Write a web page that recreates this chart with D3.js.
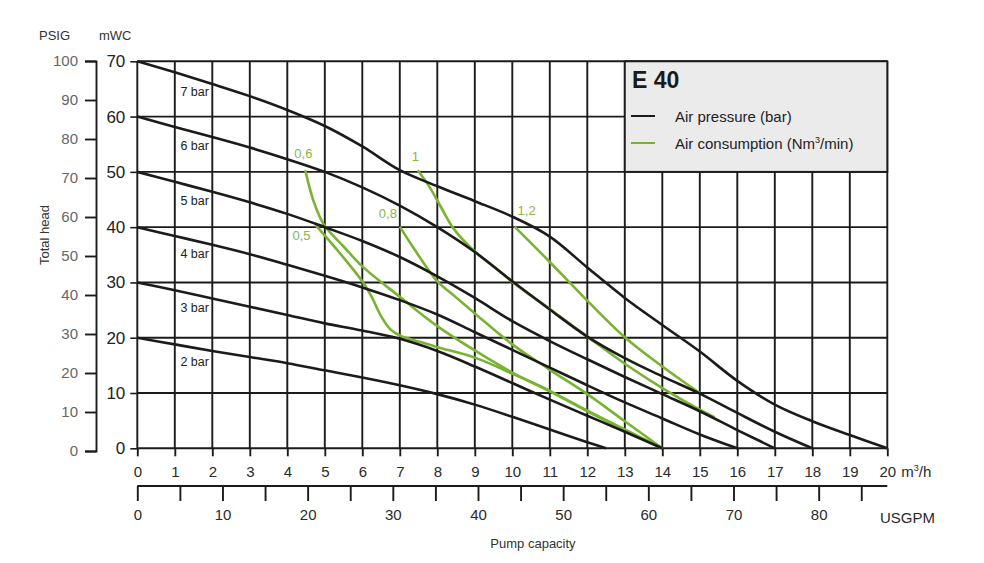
<!DOCTYPE html>
<html>
<head>
<meta charset="utf-8">
<script src="https://cdn.jsdelivr.net/npm/d3@7"></script>
<style>
body { margin: 0; background: #fff; }
svg { display: block; font-family: "Liberation Sans", Arial, Helvetica, sans-serif; }
.narrow { font-family: "Liberation Sans Narrow", "Arial Narrow", "Liberation Sans", sans-serif; font-stretch: condensed; }
</style>
</head>
<body>
<svg id="chart" width="984" height="563"></svg>
<script>
// axis ticks
var flowTicks = d3.range(0, 21);            // m3/h
var headTicks = [0, 10, 20, 30, 40, 50, 60, 70];   // mWC
var psigTicks = [0, 10, 20, 30, 40, 50, 60, 70, 80, 90, 100];
var gpmTicks = d3.range(0, 90, 5);
var gpmLabels = [0, 10, 20, 30, 40, 50, 60, 70, 80];

// air pressure curves [m3/h, mWC]
var bar2 = [[0,20],[1,18.8],[2,17.6],[3,16.5],[4,15.4],[5,14.1],[6,12.8],[7,11.4],[8,9.8],[9,7.9],[10,5.7],[11,3.4],[12,1.1],[12.5,0]];
var bar3 = [[0,30],[1,28.6],[2,27.1],[3,25.6],[4,24.1],[5,22.6],[6,21.3],[7,19.8],[8,17.6],[9,14.8],[10,11.8],[11,8.8],[12,5.9],[13,3],[14,0]];
var bar4 = [[0,40],[1,38.4],[2,36.8],[3,35.1],[4,33.2],[5,31.2],[6,29.1],[7,26.8],[8,24.2],[9,21],[10,17.8],[11,14.6],[12,11.4],[13,8.3],[14,5.4],[15,2.5],[16,0]];
var bar5 = [[0,50],[1,48.2],[2,46.4],[3,44.5],[4,42.4],[5,40],[6,37.5],[7,34.6],[8,31.1],[9,27.2],[10,23],[11,19.4],[12,16.1],[13,12.9],[14,9.8],[15,6.7],[16,3.3],[17,0]];
var bar6 = [[0,60],[1,58.1],[2,56.3],[3,54.4],[4,52.3],[5,50],[6,47.2],[7,43.9],[8,40],[9,35.5],[10,30.2],[11,25.1],[12,20.2],[13,16.3],[14,13],[15,9.9],[16,6.4],[17,3],[18,0]];
var bar7 = [[0,70],[1,68],[2,65.9],[3,63.7],[4,61.2],[5,58.3],[6,54.6],[7,50.3],[8,47.4],[9,44.7],[10,41.9],[11,38.3],[12,32.7],[13,27.2],[14,22.3],[15,17.5],[16,12.2],[17,7.9],[18,4.9],[19,2.4],[20,0]];
var barNames = ["2 bar", "3 bar", "4 bar", "5 bar", "6 bar", "7 bar"];

// air consumption curves [m3/h, mWC]
var air05 = [[4.75,40.4],[5.1,37.7],[5.5,34.5],[6,30.2],[6.25,27.4],[6.5,23.9],[6.75,21.5],[7,20.4],[7.5,19.3],[8,18.3],[9,16.4],[10,13.5],[11,10.3],[12,6.7],[13,3.3],[14,0]];
var air06 = [[4.48,50.3],[4.58,47.5],[4.7,44.7],[4.85,42.1],[5,40.2],[5.5,36.5],[6,32.9],[7,27.4],[8,22.1],[9,17.7],[10,13.7],[11,10.4],[12,6.8],[13,3.4],[14,0]];
var air08 = [[7,40.1],[7.35,36.4],[7.7,32.9],[8,30.2],[8.5,27.3],[9,24.4],[10,18.8],[11,14.2],[12,9.8],[13,4.9],[14,0]];
var air10 = [[7.48,50.3],[7.8,47.2],[8.1,43.6],[8.45,39.6],[9,35.6],[9.5,32.9],[10,30.1],[11,25.2],[12,20.2],[13,15.3],[14,10.9],[15,7],[15.4,5.6]];
var air12 = [[10.06,40.1],[11,33.7],[12,26.7],[13,20.1],[14,14.8],[15,10]];
var airNames = ["0,5", "0,6", "0,8", "1", "1,2"];

var svg = d3.select("#chart");

var x = d3.scaleLinear().domain([0, 20]).range([137.3, 887.3]);
var y = d3.scaleLinear().domain([0, 70]).range([448.3, 61.3]);
var yPsi = d3.scaleLinear().domain([0, 100]).range([451, 61]);
var xGpm = d3.scaleLinear().domain([0, 20 * 4.4029]).range([137.3, 887.3]);

var ink = "#1b1b1b";
var green = "#78b431";

// grid
var grid = svg.append("g").attr("stroke", ink).attr("stroke-width", 1.9);
grid.selectAll(".v").data(flowTicks).enter().append("line")
    .attr("x1", d => x(d)).attr("x2", d => x(d))
    .attr("y1", y(70)).attr("y2", y(0));
grid.selectAll(".h").data(headTicks).enter().append("line")
    .attr("x1", x(0)).attr("x2", x(20))
    .attr("y1", d => y(d)).attr("y2", d => y(d));

// m3/h axis
var xAxis = svg.append("g")
    .attr("transform", "translate(0," + y(0) + ")")
    .call(d3.axisBottom(x).tickValues(flowTicks).tickSize(8).tickPadding(10).tickFormat(d3.format("d")));
xAxis.select(".domain").remove();
xAxis.selectAll("line").attr("stroke", ink).attr("stroke-width", 1.9);
xAxis.selectAll("text").attr("font-size", 15).attr("fill", "#2a2a2a");
svg.append("text").attr("x", x(20) + 14).attr("y", y(0) + 29)
    .attr("font-size", 15).attr("fill", "#2a2a2a")
    .html('m<tspan dy="-6" font-size="9">3</tspan><tspan dy="6">/h</tspan>');

// mWC axis
var yAxis = svg.append("g")
    .attr("transform", "translate(" + x(0) + ",0)")
    .call(d3.axisLeft(y).tickValues(headTicks).tickSize(7).tickPadding(5));
yAxis.select(".domain").remove();
yAxis.selectAll("line").attr("stroke", ink).attr("stroke-width", 1.6);
yAxis.selectAll("text").attr("font-size", 17).attr("fill", "#222");

// PSIG axis
var psiAxis = svg.append("g")
    .attr("transform", "translate(96,0)")
    .call(d3.axisLeft(yPsi).tickValues(psigTicks).tickSize(11).tickPadding(7));
psiAxis.select(".domain").attr("stroke", ink).attr("stroke-width", 1.9);
psiAxis.selectAll("line").attr("stroke", ink).attr("stroke-width", 1.9);
psiAxis.selectAll("text").attr("font-size", 15).attr("fill", "#666");

// USGPM axis
var gAxis = svg.append("g")
    .attr("transform", "translate(0,486)")
    .call(d3.axisBottom(xGpm).tickValues(gpmTicks).tickSize(15).tickPadding(8)
        .tickFormat(d => gpmLabels.indexOf(d) >= 0 ? d : ""));
gAxis.select(".domain").attr("d", "M" + x(0) + ",0H" + x(20)).attr("stroke", ink).attr("stroke-width", 1.9);
gAxis.selectAll("line").attr("stroke", ink).attr("stroke-width", 1.9);
gAxis.selectAll("text").attr("font-size", 15).attr("fill", "#2a2a2a");
svg.append("text").attr("x", 880).attr("y", 523).attr("font-size", 15).attr("fill", "#2a2a2a").text("USGPM");

// axis titles
svg.append("text").attr("x", 39).attr("y", 40).attr("font-size", 13).attr("fill", "#333").text("PSIG");
svg.append("text").attr("x", 99).attr("y", 40).attr("font-size", 13).attr("fill", "#333").text("mWC");
svg.append("text").attr("transform", "translate(49,235) rotate(-90)")
    .attr("text-anchor", "middle").attr("font-size", 13).attr("fill", "#333").text("Total head");
svg.append("text").attr("x", 533).attr("y", 548).attr("text-anchor", "middle")
    .attr("font-size", 13).attr("fill", "#333").text("Pump capacity");

// legend box covers part of the grid
svg.append("rect")
    .attr("x", x(13)).attr("y", y(70))
    .attr("width", x(20) - x(13)).attr("height", y(50) - y(70))
    .attr("fill", "#ebebeb").attr("stroke", ink).attr("stroke-width", 1.9);
svg.append("text").attr("x", 632).attr("y", 88).attr("font-size", 23).attr("font-weight", "bold")
    .attr("fill", "#1a1a1a").text("E 40");
svg.append("line").attr("x1", 631).attr("x2", 655).attr("y1", 116).attr("y2", 116)
    .attr("stroke", ink).attr("stroke-width", 2);
svg.append("line").attr("x1", 631).attr("x2", 655).attr("y1", 143).attr("y2", 143)
    .attr("stroke", green).attr("stroke-width", 2);
svg.append("text").attr("x", 675).attr("y", 122).attr("font-size", 15).attr("fill", "#222").text("Air pressure (bar)");
svg.append("text").attr("x", 675).attr("y", 149).attr("font-size", 15).attr("fill", "#222")
    .html('Air consumption (Nm<tspan dy="-6" font-size="9">3</tspan><tspan dy="6">/min)</tspan>');

// curves
var line = d3.line()
    .x(d => x(d[0]))
    .y(d => y(d[1]))
    .curve(d3.curveCatmullRom.alpha(0.5));

var airCurves = [air05, air06, air08, air10, air12];
svg.append("g").selectAll("path").data(airCurves).enter().append("path")
    .attr("d", line).attr("fill", "none")
    .attr("stroke", green).attr("stroke-width", 2.6);

var barCurves = [bar2, bar3, bar4, bar5, bar6, bar7];
svg.append("g").selectAll("path").data(barCurves).enter().append("path")
    .attr("d", line).attr("fill", "none")
    .attr("stroke", ink).attr("stroke-width", 2.6).attr("stroke-linejoin", "round");

// bar labels under each curve
function valueAt(curve, q) {
    for (var i = 1; i < curve.length; i++) {
        if (curve[i][0] >= q) {
            var a = curve[i - 1], b = curve[i];
            return a[1] + (b[1] - a[1]) * (q - a[0]) / (b[0] - a[0]);
        }
    }
    return curve[curve.length - 1][1];
}
svg.append("g").selectAll("text").data(barCurves).enter().append("text")
    .attr("class", "narrow")
    .attr("x", x(1.15))
    .attr("y", d => y(valueAt(d, 1.5)) + 18)
    .attr("font-size", 12.5).attr("fill", "#222")
    .text((d, i) => barNames[i]);

// air consumption labels near the start of each curve
var labelShift = [[-23, 15], [-11, -12], [-21, -9], [-6, -9], [3, -12]];
svg.append("g").selectAll("text").data(airCurves).enter().append("text")
    .attr("class", "narrow")
    .attr("x", (d, i) => x(d[0][0]) + labelShift[i][0])
    .attr("y", (d, i) => y(d[0][1]) + labelShift[i][1])
    .attr("font-size", 13).attr("fill", "#86b848")
    .text((d, i) => airNames[i]);
</script>
</body>
</html>
